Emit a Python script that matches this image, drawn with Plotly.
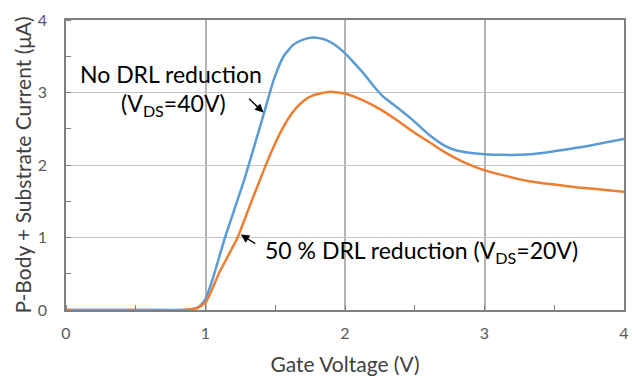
import plotly.graph_objects as go

# Data
blue_x = [0, 0.5, 0.8, 0.9, 0.95, 1.0, 1.05, 1.14, 1.28, 1.42, 1.49, 1.56, 1.63, 1.70, 1.77, 1.84, 1.91, 1.99, 2.06, 2.13, 2.20, 2.27,
          2.37, 2.48, 2.60, 2.72, 2.80, 2.89, 3.00, 3.12, 3.25, 3.43, 3.67, 4.0]
blue_y = [0, 0, 0, 0.01, 0.04, 0.15, 0.42, 1.0, 1.81, 2.72, 3.18, 3.50, 3.66, 3.73, 3.76, 3.74, 3.68, 3.56, 3.42, 3.27, 3.10, 2.95,
          2.80, 2.63, 2.42, 2.26, 2.20, 2.17, 2.15, 2.14, 2.14, 2.17, 2.24, 2.36]

orange_x = [0, 0.5, 0.85, 0.93, 1.0, 1.1, 1.23, 1.32, 1.42, 1.49, 1.56, 1.63, 1.70, 1.77, 1.89, 2.01, 2.13, 2.25, 2.37, 2.48,
            2.60, 2.72, 2.85, 2.98, 3.15, 3.31, 3.50, 3.67, 3.85, 4.0]
orange_y = [0, 0, 0, 0.02, 0.1, 0.52, 1.0, 1.45, 1.94, 2.26, 2.53, 2.74, 2.88, 2.96, 3.01, 2.98, 2.89, 2.77, 2.62, 2.47,
            2.32, 2.17, 2.04, 1.94, 1.85, 1.78, 1.73, 1.69, 1.66, 1.63]

x_ticks = [0, 1, 2, 3, 4]
y_ticks = [0, 1, 2, 3, 4]

FONT = "Lato"

fig = go.Figure()
fig.add_trace(go.Scatter(x=blue_x, y=blue_y, mode="lines",
                         line=dict(color="#5B9BD5", width=2.5, shape="spline", smoothing=0.5),
                         name="No DRL reduction"))
fig.add_trace(go.Scatter(x=orange_x, y=orange_y, mode="lines",
                         line=dict(color="#ED7D31", width=2.5, shape="spline", smoothing=0.5),
                         name="50 % DRL reduction"))

fig.update_layout(
    width=632, height=376,
    margin=dict(l=66, r=3, t=20, b=64),
    paper_bgcolor="white", plot_bgcolor="white",
    showlegend=False,
    font=dict(family=FONT, color="#404040"),
)
fig.update_xaxes(
    range=[0, 4], tickvals=x_ticks, ticktext=[str(v) for v in x_ticks],
    showgrid=True, gridcolor="#b3b3b3", gridwidth=1.5,
    showline=True, linecolor="#7f7f7f", linewidth=1.5, mirror=True,
    ticks="", zeroline=False,
    minor=dict(dtick=0.5, ticks="inside", ticklen=5, tickcolor="#7f7f7f", showgrid=False),
    tickfont=dict(size=16, color="#595959", family=FONT),
    ticklabelstandoff=8,
    title=dict(text="Gate Voltage (V)", font=dict(size=21, color="#404040", family=FONT), standoff=16),
)
fig.update_yaxes(
    range=[0, 4], tickvals=y_ticks, ticktext=[str(v) for v in y_ticks],
    showgrid=True, gridcolor="#c4c4c4", gridwidth=1,
    showline=True, linecolor="#7f7f7f", linewidth=1.5, mirror=True,
    ticks="", zeroline=False,
    minor=dict(dtick=0.5, ticks="inside", ticklen=5, tickcolor="#7f7f7f", showgrid=False),
    tickfont=dict(size=16, color="#595959", family=FONT),
    ticklabelstandoff=14,
    title=dict(text="P-Body + Substrate Current (μA)", font=dict(size=21, color="#404040", family=FONT), standoff=0),
)

txt_font = dict(size=23, color="black", family=FONT)
fig.add_annotation(x=0.756, y=3.25, text="No DRL reduction", showarrow=False,
                   font=txt_font, xanchor="center", yanchor="middle")
fig.add_annotation(x=0.77, y=2.84, text="(V<sub>DS</sub>=40V)", showarrow=False,
                   font=txt_font, xanchor="center", yanchor="middle")
fig.add_annotation(x=1.409, y=0.805, text="50 % DRL reduction (V<sub>DS</sub>=20V)", showarrow=False,
                   font=txt_font, xanchor="left", yanchor="middle")
# arrows
fig.add_annotation(x=1.416, y=2.725, ax=-16, ay=-15, text="", showarrow=True,
                   arrowhead=2, arrowsize=1.3, arrowwidth=1.3, arrowcolor="black")
fig.add_annotation(x=1.253, y=1.04, ax=16, ay=10, text="", showarrow=True,
                   arrowhead=2, arrowsize=1.3, arrowwidth=1.3, arrowcolor="black")

fig.write_html("out.html")
